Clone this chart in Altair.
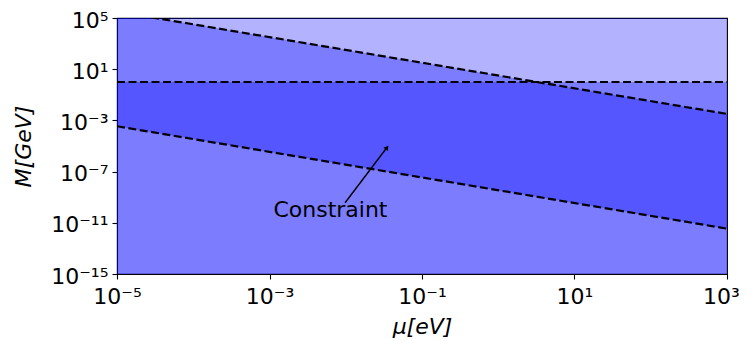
import math
import altair as alt
import pandas as pd

# ---- data ----
x_ends = [1e-5, 1e3]
upper_line = [3.2e5, 3.2e-3]      # upper dashed diagonal
lower_line = [3.5e-4, 3.5e-12]    # lower dashed diagonal
flat_line = [1.0, 1.0]            # horizontal dashed line
y_top = [1e5, 1e5]
y_bottom = [1e-15, 1e-15]

x_ticks = [1e-5, 1e-3, 1e-1, 1e1, 1e3]
x_tick_labels = ["10⁻⁵", "10⁻³", "10⁻¹", "10¹", "10³"]
y_ticks = [1e5, 1e1, 1e-3, 1e-7, 1e-11, 1e-15]
y_tick_labels = ["10⁵", "10¹", "10⁻³", "10⁻⁷", "10⁻¹¹", "10⁻¹⁵"]

note_text = ["Constraint"]
note_x = [6.3e-3]
note_y = [3.0e-11]
arrow_tail_x = [9.8e-3]
arrow_tail_y = [3.7e-10]
arrow_tip_x = [0.0347]
arrow_tip_y = [7.6e-6]

FONT = "DejaVu Sans"


def label_expr(ticks, labels):
    expr = "''"
    for t, lab in zip(reversed(ticks), reversed(labels)):
        e = int(round(math.log10(t)))
        expr = f"round(log(datum.value)/LN10) == {e} ? '{lab}' : ({expr})"
    return expr


xs = alt.Scale(type="log", domain=[1e-5, 1e3], nice=False)
ys = alt.Scale(type="log", domain=[1e-15, 1e5], nice=False)

x_axis = alt.Axis(values=x_ticks, labelExpr=label_expr(x_ticks, x_tick_labels),
                  labelPadding=7, labelFlush=False, labelOverlap=False,
                  labelOffset={"condition": {"test": "datum.value > 100", "value": -6},
                               "value": 0},
                  titleY=59, titleBaseline="alphabetic")
y_axis = alt.Axis(values=y_ticks, labelExpr=label_expr(y_ticks, y_tick_labels),
                  labelPadding=4, labelFlush=False, labelOverlap=False,
                  labelOffset=2,
                  titleX=-86.5, titleY=128, titleBaseline="alphabetic")
X_TITLE = "μ[eV]"
Y_TITLE = "M[GeV]"


def xenc(field):
    return alt.X(field, scale=xs, title=X_TITLE, axis=x_axis)


def yenc(field):
    return alt.Y(field, scale=ys, title=Y_TITLE, axis=y_axis)


regions = pd.DataFrame({
    "x": x_ends, "upper": upper_line, "lower": lower_line,
    "flat": flat_line, "top": y_top, "bottom": y_bottom,
})

lines = pd.DataFrame({
    "x": x_ends * 3,
    "y": upper_line + flat_line + lower_line,
    "line": ["upper"] * 2 + ["flat"] * 2 + ["lower"] * 2,
})

notes = pd.DataFrame({"text": note_text, "x": note_x, "y": note_y})
arrows = pd.DataFrame({"x": arrow_tail_x, "y": arrow_tail_y,
                       "x2": arrow_tip_x, "y2": arrow_tip_y})

base = alt.Chart(regions)

full = base.mark_area(color="blue", opacity=0.3).encode(
    x=xenc("x:Q"), y=yenc("top:Q"), y2="bottom:Q",
)

band = base.mark_area(color="blue", opacity=0.3, clip=True).encode(
    x=xenc("x:Q"), y=yenc("upper:Q"), y2="lower:Q",
)

below = base.mark_area(color="blue", opacity=0.3, clip=True).encode(
    x=xenc("x:Q"), y=yenc("flat:Q"), y2="bottom:Q",
)

dashed = alt.Chart(lines).mark_line(
    color="black", strokeDash=[8, 3.5], strokeWidth=2.2, clip=True
).encode(
    x=xenc("x:Q"), y=yenc("y:Q"), detail="line:N",
)

arrow_line = alt.Chart(arrows).mark_rule(color="black", strokeWidth=1.4).encode(
    x=xenc("x:Q"), y=yenc("y:Q"), x2="x2:Q", y2="y2:Q",
)

arrow_head = alt.Chart(arrows).mark_point(
    shape="triangle-up", filled=True, color="black", size=30, angle=37, opacity=1
).encode(
    x=xenc("x2:Q"), y=yenc("y2:Q"),
)

label = alt.Chart(notes).mark_text(
    font=FONT, fontSize=22, color="black", align="center", baseline="alphabetic"
).encode(
    x=xenc("x:Q"), y=yenc("y:Q"), text="text:N",
)

chart = alt.layer(full, band, below, dashed, arrow_line, arrow_head, label).properties(
    width=610,
    height=256,
    autosize=alt.AutoSizeParams(type="none"),
    padding={"left": 109, "top": 10, "right": 14, "bottom": 66},
).configure_view(
    stroke="black", strokeWidth=1.1
).configure_axis(
    labelFont=FONT, labelFontSize=22, labelColor="black",
    titleFont=FONT, titleFontSize=22, titleFontStyle="italic",
    titleFontWeight="normal", titleColor="black",
    tickColor="black", tickSize=5, tickWidth=1.1,
    domainColor="black", domainWidth=1.1, grid=False,
)

chart.save("out.html", embed_options={"renderer": "svg", "actions": False})
